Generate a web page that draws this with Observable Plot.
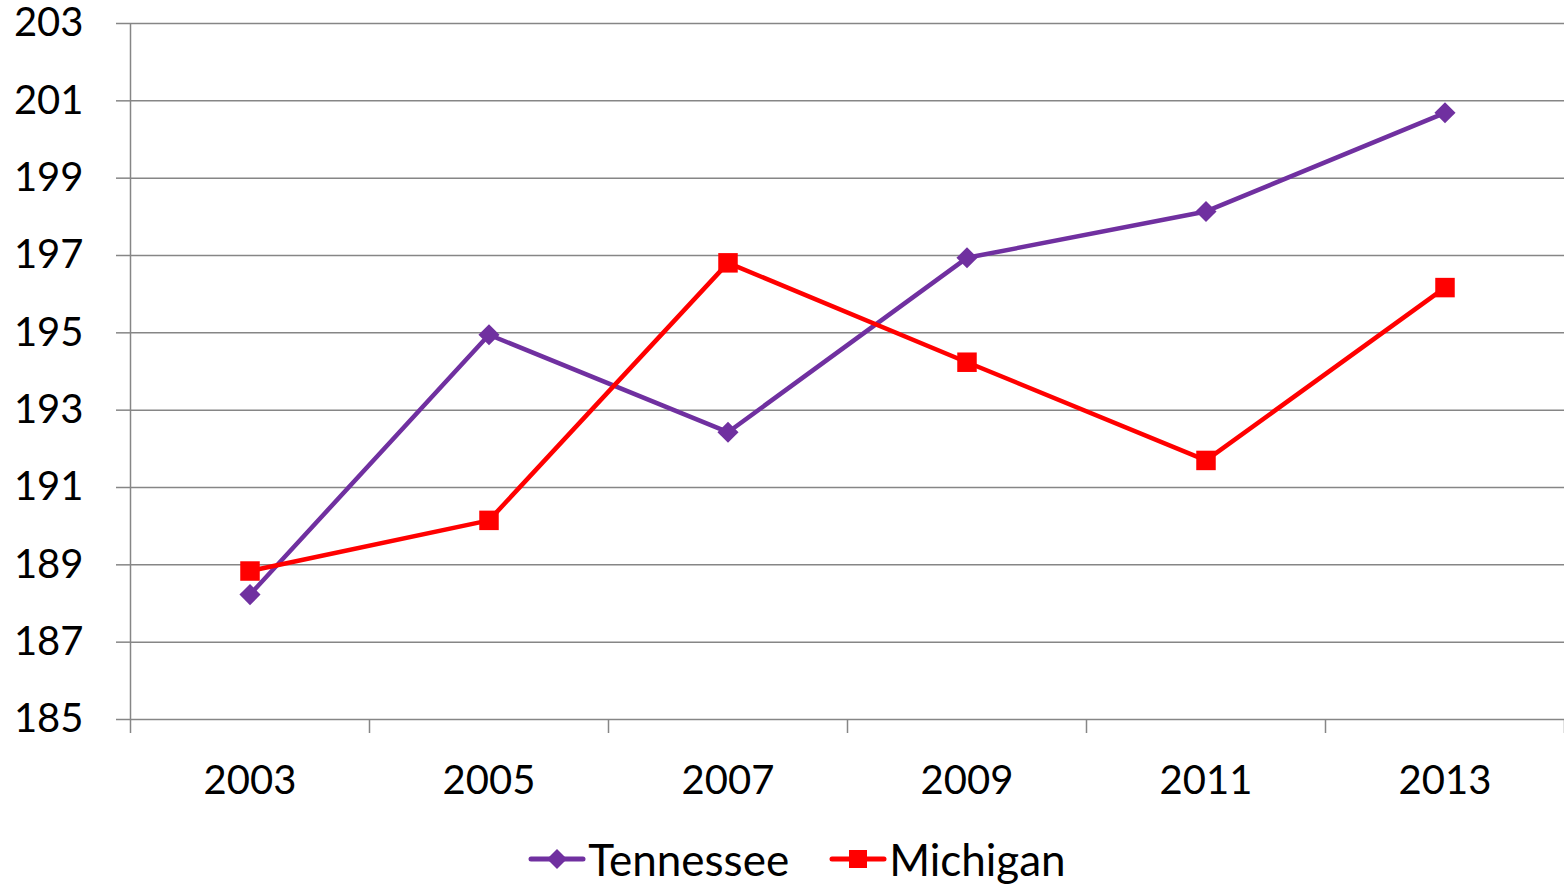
<!DOCTYPE html>
<html>
<head>
<meta charset="utf-8">
<script src="https://cdn.jsdelivr.net/npm/d3@7"></script>
<script src="https://cdn.jsdelivr.net/npm/@observablehq/plot@0.6"></script>
<style>
  html, body { margin: 0; padding: 0; background: #fff; }
  #chart { width: 1564px; height: 885px; overflow: hidden; font-family: Lato, sans-serif; }
  #legend { height: 65px; display: flex; justify-content: center; align-items: center; gap: 40px; position: relative; top: 6px; left: 15px; font-size: 44px; color: #000; }
  .item { display: flex; align-items: center; }
  .item svg { margin-right: 2px; }
</style>
</head>
<body>
<div id="chart"></div>
<script>
const years = [2003, 2005, 2007, 2009, 2011, 2013];
const tennessee = [188.23, 194.95, 192.43, 196.94, 198.14, 200.69];
const michigan = [188.84, 190.15, 196.81, 194.24, 191.70, 196.17];
const yTicks = [185, 187, 189, 191, 193, 195, 197, 199, 201, 203];
const xBoundaries = [2002, 2004, 2006, 2008, 2010, 2012, 2014];
const seriesNames = ["Tennessee", "Michigan"];
const seriesColors = ["#7030A0", "#FF0000"];

const tnData = years.map((y, i) => ({year: y, value: tennessee[i]}));
const miData = years.map((y, i) => ({year: y, value: michigan[i]}));

const grid = "#868686";

const plot = Plot.plot({
  width: 1564,
  height: 820,
  marginLeft: 130,
  marginRight: 0,
  marginTop: 23,
  marginBottom: 101,
  x: {domain: [2002, 2014]},
  y: {domain: [185, 203]},
  style: {fontFamily: "Lato, sans-serif", fontSize: "40px", color: "#000", background: "#fff", overflow: "visible"},
  marks: [
    Plot.ruleY(yTicks, {stroke: grid, strokeWidth: 1.5}),
    Plot.axisY({ticks: yTicks, tickSize: 14, tickPadding: 33, stroke: grid, strokeWidth: 1.5, strokeOpacity: 1, tickFormat: d => String(d), label: null}),
    Plot.ruleX([2002], {y1: 185, y2: 203, stroke: grid, strokeWidth: 1.5}),
    Plot.axisX({ticks: xBoundaries, tickSize: 14, stroke: grid, strokeWidth: 1.5, strokeOpacity: 1, tickFormat: () => "", label: null}),
    Plot.axisX({ticks: years, tickSize: 0, tickPadding: 46, tickFormat: d => String(d), label: null}),
    Plot.line(tnData, {x: "year", y: "value", stroke: seriesColors[0], strokeWidth: 4.5, strokeLinejoin: "round", strokeLinecap: "round"}),
    Plot.dot(tnData, {x: "year", y: "value", symbol: "diamond2", r: 9.5, fill: seriesColors[0], stroke: "none"}),
    Plot.line(miData, {x: "year", y: "value", stroke: seriesColors[1], strokeWidth: 4.5, strokeLinejoin: "round", strokeLinecap: "round"}),
    Plot.dot(miData, {x: "year", y: "value", symbol: "square", r: 11, fill: seriesColors[1], stroke: "none"})
  ]
});

const chart = document.getElementById("chart");
chart.appendChild(plot);

const legend = document.createElement("div");
legend.id = "legend";
seriesNames.forEach((name, i) => {
  const item = document.createElement("div");
  item.className = "item";
  const sw = d3.create("svg").attr("width", 58).attr("height", 30);
  sw.append("line").attr("x1", 3).attr("x2", 55).attr("y1", 15).attr("y2", 15)
    .attr("stroke", seriesColors[i]).attr("stroke-width", 5).attr("stroke-linecap", "round");
  if (i === 0) {
    sw.append("path").attr("d", "M29,5 L39,15 L29,25 L19,15 Z").attr("fill", seriesColors[i]);
  } else {
    sw.append("rect").attr("x", 20).attr("y", 6).attr("width", 18).attr("height", 18).attr("fill", seriesColors[i]);
  }
  item.appendChild(sw.node());
  const label = document.createElement("span");
  label.textContent = name;
  item.appendChild(label);
  legend.appendChild(item);
});
chart.appendChild(legend);
</script>
</body>
</html>
